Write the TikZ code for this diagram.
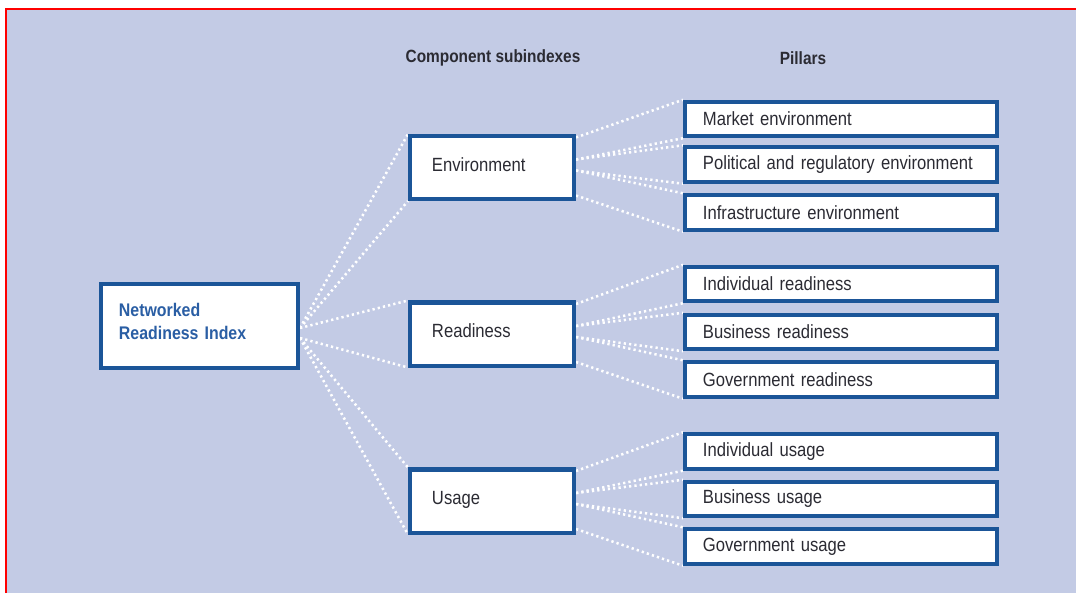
\documentclass[tikz,border=0pt]{standalone}
\usepackage{fontspec}
\setmainfont{Liberation Sans}[FakeStretch=0.87]
\usetikzlibrary{positioning}
\definecolor{panelbg}{HTML}{C3CBE5}
\definecolor{boxblue}{HTML}{1B5598}
\definecolor{nritext}{HTML}{2A5EA4}
\definecolor{darktext}{HTML}{2B2B33}
\pgfdeclarelayer{back}
\pgfdeclarelayer{fan}
\pgfsetlayers{back,fan,main}
\begin{document}
\begin{tikzpicture}[x=0.025cm,y=-0.025cm,
  box/.style={draw=boxblue,line width=2.85pt,fill=white,inner xsep=0pt,inner ysep=0pt,
    align=left,text=darktext,font=\fontsize{13.6}{16}\selectfont},
  pillar/.style={box,minimum width=7.8cm,minimum height=0.86cm,text width=6.9cm},
  subindex/.style={box,minimum width=4.1cm,minimum height=1.575cm,text width=3cm,text depth=0.15cm},
  dots/.style={white,line width=1.8pt,dash pattern=on 1.6pt off 2.2pt},
  heading/.style={text=darktext,font=\bfseries\fontsize{12.6}{15}\selectfont}]
\useasboundingbox (0,0) rectangle (1076,593);
% Panel and frame
\begin{pgfonlayer}{back}
\fill[panelbg] (6,9) rectangle (1076,593);
\draw[red,line width=2.1pt] (6,593) -- (6,9) -- (1076,9);
\end{pgfonlayer}
% Column headings
\node[heading] (subhead) at (493,58) {Component subindexes};
\node[heading] (pillhead) at (803,58) {Pillars};
% Index
\node[box,minimum width=4.925cm,minimum height=2.1cm,text width=4.025cm,text depth=0.8cm,
  text=nritext,font=\bfseries\fontsize{13}{16.4}\selectfont] (nri) at (199.5,326)
  {Networked\\Readiness Index};
% Subindexes
\node[subindex] (env) at (492,167.5) {Environment};
\node[subindex] (rdy) at (492,334) {Readiness};
\node[subindex] (use) at (492,501) {Usage};
% Pillars
\node[pillar] (mkt) at (841,119) {Market environment};
\node[pillar] (pol) at (841,164.5) {Political and regulatory environment};
\node[pillar] (inf) at (841,212.5) {Infrastructure environment};
\node[pillar] (ird) at (841,284) {Individual readiness};
\node[pillar] (brd) at (841,332) {Business readiness};
\node[pillar] (grd) at (841,379.5) {Government readiness};
\node[pillar] (ius) at (841,451.5) {Individual usage};
\node[pillar] (bus) at (841,499) {Business usage};
\node[pillar] (gus) at (841,546.5) {Government usage};
% Dotted fans
\begin{pgfonlayer}{fan}
\coordinate (nri-up) at ([yshift=-0.05cm]nri.east);
\coordinate (nri-down) at ([yshift=-0.3cm]nri.east);
\draw[dots] (nri-up) -- (env.north west);
\draw[dots] (nri-up) -- (env.south west);
\draw[dots] (nri-up) -- (rdy.north west);
\draw[dots] (nri-down) -- (rdy.south west);
\draw[dots] (nri-down) -- (use.north west);
\draw[dots] (nri-down) -- (use.south west);
\foreach \s/\a/\b/\c in {env/mkt/pol/inf,rdy/ird/brd/grd,use/ius/bus/gus}{
  \draw[dots] ([yshift=0.75cm]\s.east) -- (\a.north west);
  \draw[dots] ([yshift=0.2cm]\s.east) -- (\a.south west);
  \draw[dots] ([yshift=0.2cm]\s.east) -- (\b.north west);
  \draw[dots] ([yshift=-0.075cm]\s.east) -- (\b.south west);
  \draw[dots] ([yshift=-0.075cm]\s.east) -- (\c.north west);
  \draw[dots] ([yshift=-0.7cm]\s.east) -- (\c.south west);
}
\end{pgfonlayer}
\end{tikzpicture}
\end{document}
